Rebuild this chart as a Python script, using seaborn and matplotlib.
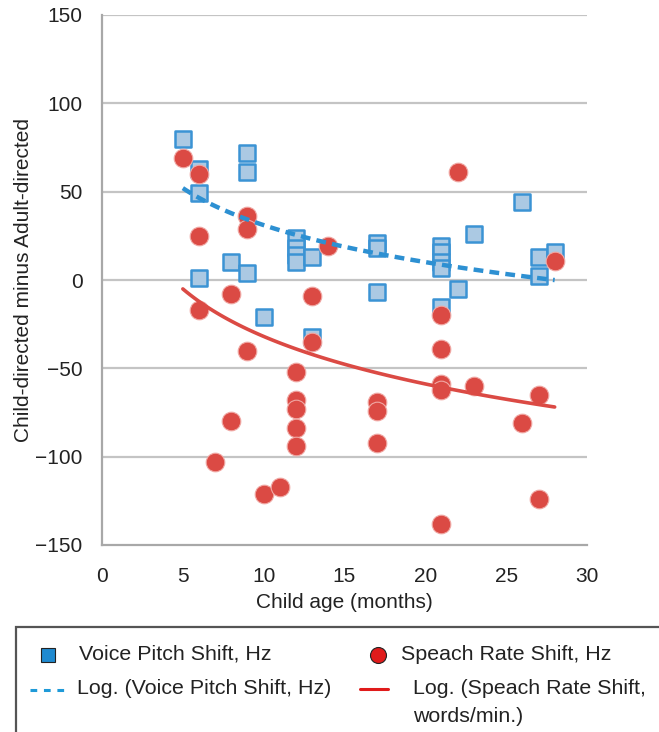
import numpy as np
import pandas as pd
import matplotlib
matplotlib.use("Agg")
import matplotlib.pyplot as plt
from matplotlib.lines import Line2D
from matplotlib.patches import Rectangle
import seaborn as sns

# Child age (months) and child-directed minus adult-directed shifts
pitch_age = [5, 6, 6, 6, 8, 9, 9, 9, 10, 12, 12, 12, 12, 13, 13,
             17, 17, 17, 21, 21, 21, 21, 21, 22, 23, 26, 27, 27, 28]
pitch_shift = [80, 63, 49, 1, 10, 72, 61, 4, -21, 24, 18, 14, 10, 13, -32,
               21, 18, -7, 19, 16, 10, 7, -15, -5, 26, 44, 13, 2, 16]

rate_age = [5, 6, 6, 6, 7, 8, 8, 9, 9, 9, 10, 11, 12, 12, 12, 12, 12,
            13, 13, 14, 17, 17, 17, 21, 21, 21, 21, 21, 22, 23, 26, 27, 27, 28]
rate_shift = [69, 60, 25, -17, -103, -8, -80, 36, 29, -40, -121, -117,
              -52, -68, -73, -84, -94, -9, -35, 19, -69, -74, -92,
              -20, -39, -59, -62, -138, 61, -60, -81, -65, -124, 11]

# Logarithmic trendlines: shift = slope * ln(age) + intercept
pitch_trend = [-30.2, 100.6]
rate_trend = [-38.8, 57.4]
trend_range = [5, 28]

x_ticks = [0, 5, 10, 15, 20, 25, 30]
y_ticks = [-150, -100, -50, 0, 50, 100, 150]

pitch = pd.DataFrame({"age": pitch_age, "shift": pitch_shift})
rate = pd.DataFrame({"age": rate_age, "shift": rate_shift})


def log_trend(coef):
    xs = np.linspace(trend_range[0], trend_range[1], 100)
    return pd.DataFrame({"age": xs, "shift": coef[0] * np.log(xs) + coef[1]})


sns.set_theme(style="white")
plt.rcParams["font.family"] = ["Liberation Sans", "DejaVu Sans"]

fig = plt.figure(figsize=(6.59, 7.32), dpi=100)
ax = fig.add_axes([102 / 659, 1 - 545 / 732, 485 / 659, 530 / 732])

grid_c = "#c4c4c4"
for yv in y_ticks[1:]:
    ax.axhline(yv, color=grid_c, lw=1.6, zorder=0)

pitch_edge = "#3b93d4"
pitch_fill = "#abc9e3"
rate_col = "#db4a44"

sns.lineplot(data=log_trend(pitch_trend), x="age", y="shift", ax=ax,
             color="#2d90d2", lw=3.2, linestyle=(0, (2.2, 1.4)), zorder=4)
sns.lineplot(data=log_trend(rate_trend), x="age", y="shift", ax=ax,
             color=rate_col, lw=2.6, zorder=4)
sns.scatterplot(data=pitch, x="age", y="shift", ax=ax, marker="s", s=125,
                color=pitch_fill, edgecolor=pitch_edge, linewidth=1.8, zorder=3)
sns.scatterplot(data=rate, x="age", y="shift", ax=ax, marker="o", s=180,
                color=rate_col, edgecolor="#f0a8a4", linewidth=0.8, zorder=3)

ax.set_xlim(0, 30)
ax.set_ylim(-150, 150)
ax.set_xticks(x_ticks)
ax.set_yticks(y_ticks)
ax.set_yticklabels([str(v).replace("-", "\u2212") for v in y_ticks])
ax.tick_params(axis="both", which="both", length=8, width=1.4, color="#a8a8a8",
               labelsize=15, labelcolor="#222222", direction="out", pad=6)
ax.tick_params(axis="x", pad=8)
for side in ["top", "right"]:
    ax.spines[side].set_visible(False)
for side in ["left", "bottom"]:
    ax.spines[side].set_color("#a8a8a8")
    ax.spines[side].set_linewidth(1.6)
ax.set_xlabel("Child age (months)", fontsize=15, color="#222222", labelpad=5)
ax.set_ylabel("Child-directed minus Adult-directed", fontsize=15,
              color="#222222")
ax.yaxis.set_label_coords(-0.142, 0.5)
ax.patch.set_alpha(0)


# Legend panel below the axes
def fx(px):
    return px / 659


def fy(py):
    return 1 - py / 732


fig.patches.append(Rectangle((fx(16), fy(760)), 1.0, fy(627) - fy(760),
                             transform=fig.transFigure, facecolor="white",
                             edgecolor="#555555", lw=1.6, clip_on=False))

legend_font = dict(fontsize=15.4, color="#222222", va="center", ha="left")
fig.add_artist(Line2D([fx(48)], [fy(655)], marker="s", markersize=10.5,
                      markerfacecolor="#1f8ad0", markeredgecolor="#222222",
                      markeredgewidth=0.8, transform=fig.transFigure))
fig.text(fx(79), fy(654), "Voice Pitch Shift, Hz", **legend_font)
fig.add_artist(Line2D([fx(378)], [fy(655)], marker="o", markersize=11.5,
                      markerfacecolor="#e01b1b", markeredgecolor="#222222",
                      markeredgewidth=0.8, transform=fig.transFigure))
fig.text(fx(401), fy(654), "Speach Rate Shift, Hz", **legend_font)
fig.add_artist(Line2D([fx(30), fx(66)], [fy(690), fy(690)], color="#1f9ad8",
                      lw=2.2, linestyle=(0, (2.2, 2.2)),
                      transform=fig.transFigure))
fig.text(fx(77), fy(689), "Log. (Voice Pitch Shift, Hz)", **legend_font)
fig.add_artist(Line2D([fx(360), fx(388)], [fy(689), fy(689)], color="#e01b1b",
                      lw=2.2, transform=fig.transFigure))
fig.text(fx(413), fy(689), "Log. (Speach Rate Shift,", **legend_font)
fig.text(fx(413), fy(716), "words/min.)", **legend_font)

fig.savefig("out.png", dpi=100, facecolor="white")
